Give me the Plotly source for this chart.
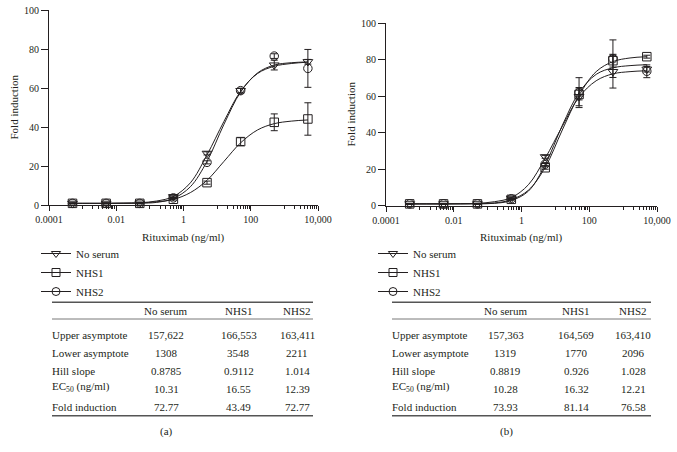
import plotly.graph_objects as go

W, H = 677, 452
FONT = "Liberation Serif, Times New Roman, serif"
INK = "#231f20"

# ---------------- data ----------------
conc = [0.0005, 0.005, 0.05, 0.5, 5, 50, 500, 5000]
fit_conc = [0.0005, 0.0016, 0.005, 0.016, 0.05, 0.16, 0.5, 1.6, 5, 16, 50, 160, 500, 1600, 5000]
series_names = ["No serum", "NHS1", "NHS2"]

# panel (a) measured points
a_noserum = [1.0, 1.0, 1.1, 4.4, 26.6, 58.7, 71.8, 73.5]
a_noserum_err = [0.2, 0.2, 0.2, 0.4, 0.8, 1.2, 2.5, 1.2]
a_nhs1 = [1.0, 1.0, 1.0, 3.1, 11.6, 32.6, 42.5, 44.2]
a_nhs1_err = [0.2, 0.2, 0.2, 0.4, 0.8, 2.0, 4.3, 8.3]
a_nhs2 = [1.0, 1.0, 1.0, 3.8, 22.0, 58.7, 76.4, 70.1]
a_nhs2_err = [0.2, 0.2, 0.2, 0.4, 0.8, 1.2, 1.2, 9.7]
# panel (a) fitted curves
a_fit_noserum = [1.0, 1.0, 1.0, 1.1, 1.3, 2.2, 4.5, 11.5, 25.8, 43.0, 58.4, 67.5, 71.2, 72.6, 73.3]
a_fit_nhs1 = [1.0, 1.0, 1.0, 1.05, 1.2, 1.8, 3.0, 6.5, 12.8, 22.5, 32.0, 38.6, 41.8, 43.1, 43.7]
a_fit_nhs2 = [1.0, 1.0, 1.0, 1.05, 1.1, 1.5, 3.5, 9.5, 22.5, 41.5, 58.0, 67.8, 71.8, 73.0, 73.4]

# panel (b) measured points
b_noserum = [1.0, 1.0, 1.0, 4.0, 26.8, 59.8, 73.5, 74.8]
b_noserum_err = [0.2, 0.2, 0.2, 0.4, 0.8, 5.0, 9.0, 1.5]
b_nhs1 = [1.0, 1.0, 1.0, 3.5, 20.8, 61.0, 79.5, 81.7]
b_nhs1_err = [0.2, 0.2, 0.2, 0.4, 0.8, 3.0, 3.5, 0.8]
b_nhs2 = [1.0, 1.0, 1.0, 3.8, 22.8, 62.0, 80.6, 73.7]
b_nhs2_err = [0.2, 0.2, 0.2, 0.4, 0.8, 8.2, 10.3, 3.5]
# panel (b) fitted curves
b_fit_noserum = [1.0, 1.0, 1.0, 1.1, 1.3, 2.2, 4.4, 11.5, 26.0, 43.5, 59.5, 68.5, 72.3, 73.5, 74.0]
b_fit_nhs1 = [1.0, 1.0, 1.0, 1.02, 1.1, 1.5, 3.3, 8.5, 21.0, 41.5, 60.5, 73.5, 79.0, 81.0, 81.7]
b_fit_nhs2 = [1.0, 1.0, 1.0, 1.02, 1.05, 1.3, 2.8, 8.0, 22.5, 44.0, 62.0, 72.0, 75.6, 76.8, 77.3]

# axis ticks
x_tickvals = [0.0001, 0.01, 1, 100, 10000]
x_ticktext = ["0.0001", "0.01", "1", "100", "10,000"]
x_minor_decades = [0.001, 0.1, 10, 1000]
y_tickvals = [0, 20, 40, 60, 80, 100]

# tables
table_header = ["No serum", "NHS1", "NHS2"]
table_rows = ["Upper asymptote", "Lower asymptote", "Hill slope", "EC<sub>50</sub> (ng/ml)", "Fold induction"]
a_tab_noserum = ["157,622", "1308", "0.8785", "10.31", "72.77"]
a_tab_nhs1 = ["166,553", "3548", "0.9112", "16.55", "43.49"]
a_tab_nhs2 = ["163,411", "2211", "1.014", "12.39", "72.77"]
b_tab_noserum = ["157,363", "1319", "0.8819", "10.28", "73.93"]
b_tab_nhs1 = ["164,569", "1770", "0.926", "16.32", "81.14"]
b_tab_nhs2 = ["163,410", "2096", "1.028", "12.21", "76.58"]
panel_labels = ["(a)", "(b)"]

# ---------------- styling ----------------
symbols = ["triangle-down-open", "square-open", "circle-open"]


def fx(p):
    return p / W


def fy(p):
    return 1 - p / H


fig = go.Figure()

panels = [
    dict(xa="x", ya="y", legend="legend",
         pts=[(a_noserum, a_noserum_err), (a_nhs1, a_nhs1_err), (a_nhs2, a_nhs2_err)],
         fits=[a_fit_noserum, a_fit_nhs1, a_fit_nhs2]),
    dict(xa="x2", ya="y2", legend="legend2",
         pts=[(b_noserum, b_noserum_err), (b_nhs1, b_nhs1_err), (b_nhs2, b_nhs2_err)],
         fits=[b_fit_noserum, b_fit_nhs1, b_fit_nhs2]),
]

for p in panels:
    for fit in p["fits"]:
        fig.add_trace(go.Scatter(x=fit_conc, y=fit, mode="lines", xaxis=p["xa"], yaxis=p["ya"],
                                 line=dict(color=INK, width=1, shape="spline", smoothing=1),
                                 showlegend=False, hoverinfo="skip"))
    for (vals, errs), sym in zip(p["pts"], symbols):
        fig.add_trace(go.Scatter(x=conc, y=vals, mode="markers", xaxis=p["xa"], yaxis=p["ya"],
                                 marker=dict(symbol=sym, size=8.5, color=INK, line=dict(width=1, color=INK)),
                                 error_y=dict(type="data", array=errs, visible=True, color=INK,
                                              thickness=1, width=3.5),
                                 showlegend=False, cliponaxis=False))
    for name, sym in zip(series_names, symbols):
        fig.add_trace(go.Scatter(x=[None], y=[None], mode="lines+markers", name=name,
                                 xaxis=p["xa"], yaxis=p["ya"], legend=p["legend"],
                                 line=dict(color=INK, width=1),
                                 marker=dict(symbol=sym, size=8, color=INK, line=dict(width=1, color=INK)),
                                 showlegend=True))

tickfont = dict(family=FONT, size=10, color=INK)
minor_vals = [k * d for d in x_minor_decades for k in range(1, 10)]


def xaxis_cfg(domain, anchor):
    return dict(domain=domain, anchor=anchor, type="log", range=[-4, 4],
                tickvals=x_tickvals, ticktext=x_ticktext, ticks="outside", ticklen=5,
                tickwidth=1, tickcolor=INK, showline=True, linecolor=INK, linewidth=1,
                showgrid=False, zeroline=False, tickfont=tickfont, automargin=False,
                minor=dict(tickmode="array", tickvals=minor_vals, ticks="outside",
                           ticklen=3, tickwidth=1, tickcolor=INK, showgrid=False))


def yaxis_cfg(domain, anchor):
    return dict(domain=domain, anchor=anchor, range=[0, 100], tickvals=y_tickvals,
                ticks="outside", ticklen=7, tickwidth=1, tickcolor=INK, showline=True,
                linecolor=INK, linewidth=1, showgrid=False, zeroline=False, tickfont=tickfont,
                automargin=False)


legend_style = dict(xanchor="left", yanchor="top", bgcolor="rgba(0,0,0,0)",
                    font=dict(family=FONT, size=11, color=INK), itemwidth=30, tracegroupgap=0)

fig.update_layout(
    width=W, height=H, margin=dict(l=0, r=0, t=0, b=0, autoexpand=False),
    plot_bgcolor="white", paper_bgcolor="white",
    font=dict(family=FONT, size=11, color=INK),
    xaxis=xaxis_cfg([fx(49), fx(318)], "y"),
    yaxis=yaxis_cfg([fy(205.3), fy(10)], "x"),
    xaxis2=xaxis_cfg([fx(386), fx(657)], "y2"),
    yaxis2=yaxis_cfg([fy(205.7), fy(23.3)], "x2"),
    legend=dict(x=fx(36), y=fy(239), **legend_style),
    legend2=dict(x=fx(373), y=fy(239), **legend_style),
    showlegend=True,
)

annotations = []
shapes = []

# axis titles
for cx in [183.5, 521.5]:
    annotations.append(dict(x=fx(cx), y=fy(237), xref="paper", yref="paper", text="Rituximab (ng/ml)",
                            showarrow=False, xanchor="center", yanchor="middle",
                            font=dict(family=FONT, size=11, color=INK)))
for cx, cy in [(13, 107.5), (351, 114.5)]:
    annotations.append(dict(x=fx(cx), y=fy(cy), xref="paper", yref="paper", text="Fold induction",
                            showarrow=False, textangle=-90, xanchor="center", yanchor="middle",
                            font=dict(family=FONT, size=11, color=INK)))

# tables
row_y = [334.7, 352.7, 371, 389, 406.7]
tables = [
    dict(left=52, right=313, cols=[166, 238.5, 297], label_x=166,
         data=[a_tab_noserum, a_tab_nhs1, a_tab_nhs2], label=panel_labels[0]),
    dict(left=392, right=651, cols=[505.5, 576, 633.3], label_x=506,
         data=[b_tab_noserum, b_tab_nhs1, b_tab_nhs2], label=panel_labels[1]),
]
tfont = dict(family=FONT, size=11, color=INK)
for t in tables:
    for ly, lw in [(302.3, 1.5), (319, 0.8), (415.7, 1.5)]:
        shapes.append(dict(type="line", xref="paper", yref="paper", x0=fx(t["left"]), x1=fx(t["right"]),
                           y0=fy(ly), y1=fy(ly), line=dict(color="#555555", width=lw)))
    for cx, h in zip(t["cols"], table_header):
        annotations.append(dict(x=fx(cx), y=fy(311), xref="paper", yref="paper", text=h,
                                showarrow=False, xanchor="center", yanchor="middle", font=tfont))
    for ry, rl in zip(row_y, table_rows):
        annotations.append(dict(x=fx(t["left"] - 2), y=fy(ry - (2 if "sub" in rl else 0)),
                                xref="paper", yref="paper", text=rl,
                                showarrow=False, xanchor="left", yanchor="middle", font=tfont))
    for cx, col in zip(t["cols"], t["data"]):
        for ry, v in zip(row_y, col):
            annotations.append(dict(x=fx(cx), y=fy(ry), xref="paper", yref="paper", text=v,
                                    showarrow=False, xanchor="center", yanchor="middle", font=tfont))
    annotations.append(dict(x=fx(t["label_x"]), y=fy(431), xref="paper", yref="paper", text=t["label"],
                            showarrow=False, xanchor="center", yanchor="middle", font=tfont))

fig.update_layout(annotations=annotations, shapes=shapes)

fig.write_html("out.html", config={"displayModeBar": False},
               post_script="document.body.style.margin='0';document.body.style.overflow='hidden';")
